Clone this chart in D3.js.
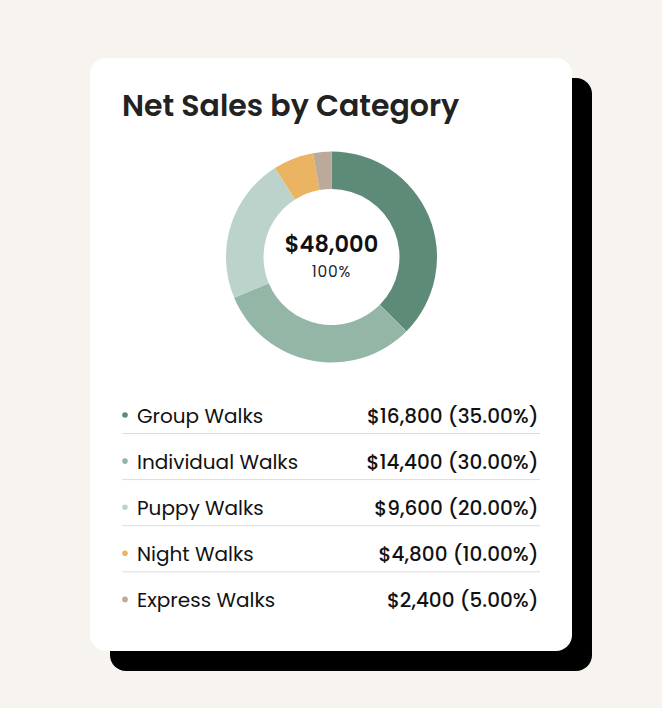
<!DOCTYPE html>
<html lang="en">
<head>
  <meta charset="utf-8">
  <title>Net Sales by Category</title>
  <script src="https://d3js.org/d3.v7.min.js"></script>
  <style>
    html, body { margin: 0; padding: 0; background: #f7f4ef; }
    svg { display: block; font-family: "Poppins", "Open Sans", sans-serif; }
  </style>
</head>
<body>
<svg id="chart" width="662" height="708"></svg>

<script>
// data
var categories = ["Group Walks", "Individual Walks", "Puppy Walks", "Night Walks", "Express Walks"];
var sales = [16800, 14400, 9600, 4800, 2400];
var colors = ["#5e8a78", "#94b6a7", "#bcd3cb", "#ebb463", "#bba999"];
// slice sizes as drawn in the ring (percent of the circle)
var sliceShares = [37.4, 31.3, 22.3, 6.2, 2.8];

var total = d3.sum(sales);
var data = categories.map(function(c, i) {
    return {name: c, value: sales[i], share: sliceShares[i], color: colors[i]};
});

var svg = d3.select("#chart");

// card + offset shadow
var card = {x: 90, y: 58, w: 482, h: 593, r: 16};
svg.append("rect")
    .attr("x", card.x + 20).attr("y", card.y + 20)
    .attr("width", card.w).attr("height", card.h)
    .attr("rx", card.r).attr("fill", "#000");
svg.append("rect")
    .attr("x", card.x).attr("y", card.y)
    .attr("width", card.w).attr("height", card.h)
    .attr("rx", card.r).attr("fill", "#fff");

svg.append("text")
    .attr("x", 122).attr("y", 116)
    .attr("font-size", 30).attr("font-weight", 600)
    .attr("fill", "#222")
    .text("Net Sales by Category");

// donut
var cx = 331.5, cy = 257;
var pie = d3.pie().value(function(d) { return d.share; }).sort(null);
var arc = d3.arc().innerRadius(68).outerRadius(105.5);

var g = svg.append("g").attr("transform", "translate(" + cx + "," + cy + ")");
g.selectAll("path")
    .data(pie(data))
    .enter()
    .append("path")
    .attr("d", arc)
    .attr("fill", function(d) { return d.data.color; });

var fmt = d3.format(",");
g.append("text")
    .attr("text-anchor", "middle").attr("y", -5)
    .attr("font-size", 22.5).attr("font-weight", 600).attr("fill", "#111")
    .text("$" + fmt(total));
g.append("text")
    .attr("text-anchor", "middle").attr("y", 19.7)
    .attr("font-size", 15.5).attr("font-weight", 400).attr("fill", "#22242f")
    .attr("letter-spacing", 0.8)
    .text("100%");

// legend list
var y = d3.scaleLinear().domain([0, 1]).range([422.5, 468.6]);
var pct = d3.format(".2%");

var rows = svg.selectAll("g.row")
    .data(data)
    .enter()
    .append("g")
    .attr("class", "row")
    .attr("transform", function(d, i) { return "translate(0," + y(i) + ")"; });

rows.append("circle")
    .attr("cx", 125).attr("cy", -7.5).attr("r", 2.8)
    .attr("fill", function(d) { return d.color; });

rows.append("text")
    .attr("x", 137).attr("y", 0)
    .attr("font-size", 20).attr("fill", "#111")
    .text(function(d) { return d.name; });

rows.append("text")
    .attr("x", 538.5).attr("y", 0)
    .attr("text-anchor", "end")
    .attr("font-size", 20).attr("font-weight", 500).attr("fill", "#111")
    .text(function(d) { return "$" + fmt(d.value) + " (" + pct(d.value / total) + ")"; });

rows.filter(function(d, i) { return i < data.length - 1; })
    .append("line")
    .attr("x1", 122).attr("x2", 540)
    .attr("y1", 11).attr("y2", 11)
    .attr("stroke", "#dddddd").attr("stroke-width", 1);
</script>
</body>
</html>
